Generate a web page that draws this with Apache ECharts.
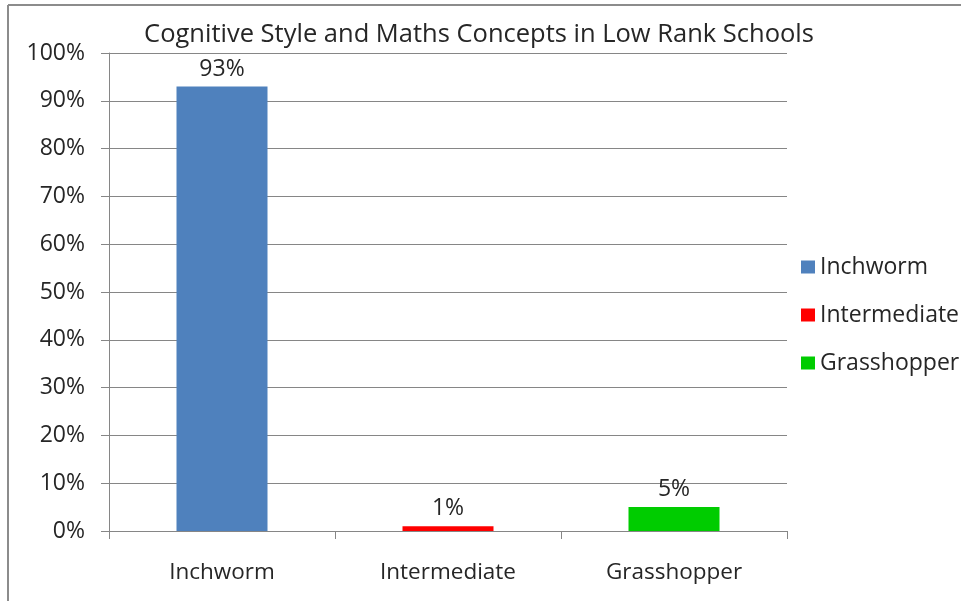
<!DOCTYPE html>
<html>
<head>
<meta charset="utf-8">
<script src="https://cdn.jsdelivr.net/npm/echarts@6/dist/echarts.min.js"></script>
<style>
  html, body { margin: 0; padding: 0; background: #fff; }
  #chart { width: 961px; height: 601px; }
</style>
</head>
<body>
<div id="chart"></div>
<script>
// Share of pupils by cognitive style
const categories = ['Inchworm', 'Intermediate', 'Grasshopper'];
const values = [93, 1, 5];
const colors = ['#4F81BD', '#FF0000', '#00CC00'];
const yTicks = [0, 10, 20, 30, 40, 50, 60, 70, 80, 90, 100];

const FONT = '"Open Sans", Lato, sans-serif';
const TEXT = '#262626';

// One series per style, stacked so each bar sits centred on its own category
const series = categories.map((name, i) => ({
  name: name,
  type: 'bar',
  stack: 'all',
  barWidth: 91,
  data: categories.map((c, j) => (j === i ? values[i] : '-')),
  itemStyle: { color: colors[i] },
  label: {
    show: true,
    position: 'top',
    distance: 6,
    formatter: p => p.value + '%',
    fontFamily: FONT,
    fontSize: 23,
    color: TEXT
  }
}));

const chart = echarts.init(document.getElementById('chart'));
chart.setOption({
  animation: false,
  backgroundColor: '#fff',
  title: {
    text: 'Cognitive Style and Maths Concepts in Low Rank Schools',
    left: 474,
    textAlign: 'center',
    top: 17,
    textStyle: { fontFamily: FONT, fontSize: 25.5, fontWeight: 'normal', color: TEXT }
  },
  legend: {
    orient: 'vertical',
    left: 796,
    top: 250,
    itemWidth: 14,
    itemHeight: 13,
    itemGap: 24,
    icon: 'rect',
    textStyle: { fontFamily: FONT, fontSize: 23, color: TEXT, lineHeight: 24, padding: [0, 0, 0, 0] },
    data: categories
  },
  grid: { left: 109, right: 174, top: 53, bottom: 70, containLabel: false },
  xAxis: {
    type: 'category',
    data: categories,
    axisLine: { lineStyle: { color: '#868686', width: 1 } },
    axisTick: { show: true, length: 8, lineStyle: { color: '#868686' } },
    axisLabel: { fontFamily: FONT, fontSize: 22.5, color: TEXT, margin: 30 }
  },
  yAxis: {
    type: 'value',
    min: yTicks[0],
    max: yTicks[yTicks.length - 1],
    interval: 10,
    axisLine: { show: true, lineStyle: { color: '#868686', width: 1 } },
    axisTick: { show: true, length: 8, lineStyle: { color: '#868686' } },
    axisLabel: { fontFamily: FONT, fontSize: 23, color: TEXT, margin: 24, formatter: '{value}%' },
    splitLine: { lineStyle: { color: '#868686', width: 1 } }
  },
  graphic: [
    { type: 'line', shape: { x1: 8, y1: 5, x2: 961, y2: 5 }, style: { stroke: '#8c8c8c', lineWidth: 2 } },
    { type: 'line', shape: { x1: 8, y1: 5, x2: 8, y2: 601 }, style: { stroke: '#8c8c8c', lineWidth: 2 } }
  ],
  series: series
});
</script>
</body>
</html>
